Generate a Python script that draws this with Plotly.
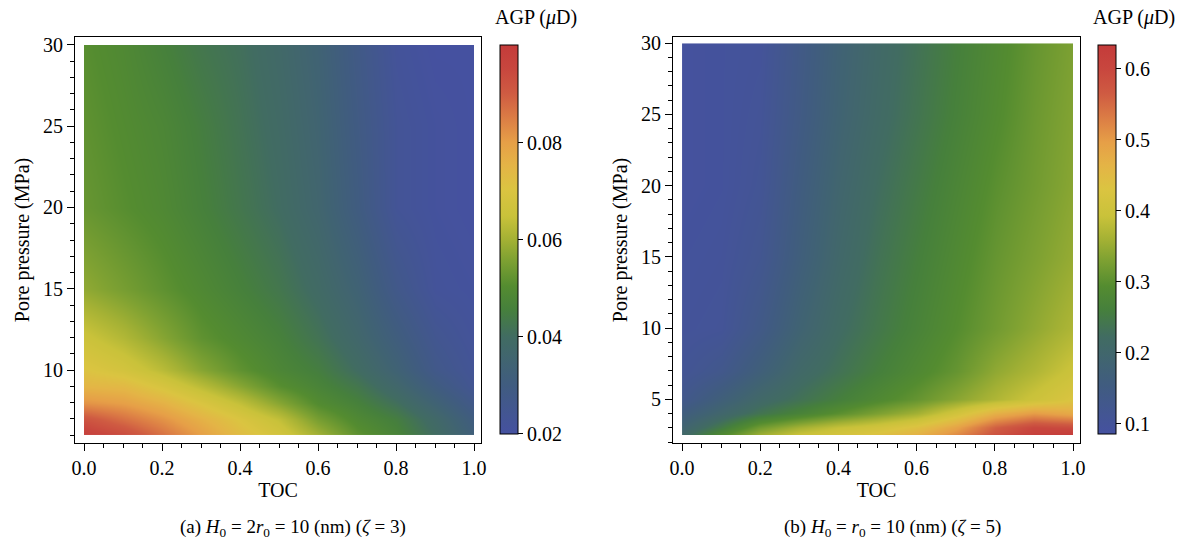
import plotly.graph_objects as go

# ---------------- data ----------------
TOC = [0.0, 0.1, 0.2, 0.3, 0.4, 0.5, 0.6, 0.7, 0.8, 0.9, 1.0]

# panel (a): H0 = 2 r0 = 10 nm (zeta = 3)
P_A = [6, 7, 8, 9, 10, 12, 15, 20, 25, 30]
AGP_A_P6 = [0.098, 0.094, 0.087, 0.080, 0.073, 0.068, 0.060, 0.052, 0.047, 0.040, 0.032]
AGP_A_P7 = [0.092, 0.087, 0.082, 0.076, 0.070, 0.064, 0.055, 0.049, 0.045, 0.038, 0.030]
AGP_A_P8 = [0.082, 0.080, 0.076, 0.070, 0.064, 0.057, 0.050, 0.046, 0.041, 0.034, 0.027]
AGP_A_P9 = [0.075, 0.074, 0.069, 0.063, 0.057, 0.051, 0.047, 0.043, 0.037, 0.030, 0.024]
AGP_A_P10 = [0.071, 0.068, 0.063, 0.057, 0.052, 0.048, 0.045, 0.040, 0.034, 0.027, 0.023]
AGP_A_P12 = [0.066, 0.062, 0.057, 0.052, 0.049, 0.046, 0.042, 0.037, 0.031, 0.025, 0.022]
AGP_A_P15 = [0.058, 0.055, 0.052, 0.049, 0.046, 0.043, 0.039, 0.034, 0.027, 0.022, 0.021]
AGP_A_P20 = [0.053, 0.051, 0.049, 0.046, 0.043, 0.040, 0.036, 0.030, 0.023, 0.021, 0.020]
AGP_A_P25 = [0.052, 0.050, 0.048, 0.045, 0.042, 0.039, 0.035, 0.029, 0.023, 0.021, 0.020]
AGP_A_P30 = [0.051, 0.049, 0.046, 0.043, 0.041, 0.038, 0.034, 0.028, 0.022, 0.020, 0.020]
Z_A = [AGP_A_P6, AGP_A_P7, AGP_A_P8, AGP_A_P9, AGP_A_P10, AGP_A_P12,
       AGP_A_P15, AGP_A_P20, AGP_A_P25, AGP_A_P30]
CB_A_RANGE = [0.02, 0.1003]
CB_A_TICKS = [0.02, 0.04, 0.06, 0.08]

# panel (b): H0 = r0 = 10 nm (zeta = 5)
P_B = [2.5, 3, 4, 5, 7, 10, 15, 20, 25, 30]
AGP_B_P2_5 = [0.21, 0.29, 0.36, 0.40, 0.42, 0.44, 0.47, 0.52, 0.58, 0.62, 0.63]
AGP_B_P3 = [0.19, 0.25, 0.32, 0.36, 0.39, 0.41, 0.44, 0.49, 0.56, 0.60, 0.59]
AGP_B_P4 = [0.16, 0.20, 0.24, 0.27, 0.30, 0.33, 0.36, 0.41, 0.47, 0.50, 0.48]
AGP_B_P5 = [0.13, 0.17, 0.21, 0.235, 0.26, 0.285, 0.31, 0.34, 0.37, 0.40, 0.43]
AGP_B_P7 = [0.11, 0.13, 0.17, 0.21, 0.235, 0.26, 0.285, 0.31, 0.345, 0.37, 0.40]
AGP_B_P10 = [0.10, 0.105, 0.14, 0.185, 0.22, 0.245, 0.27, 0.295, 0.32, 0.345, 0.37]
AGP_B_P15 = [0.095, 0.10, 0.12, 0.165, 0.205, 0.235, 0.26, 0.285, 0.31, 0.33, 0.35]
AGP_B_P20 = [0.09, 0.095, 0.11, 0.155, 0.195, 0.225, 0.25, 0.275, 0.30, 0.32, 0.34]
AGP_B_P25 = [0.09, 0.095, 0.105, 0.145, 0.185, 0.215, 0.24, 0.265, 0.29, 0.315, 0.335]
AGP_B_P30 = [0.09, 0.095, 0.10, 0.14, 0.18, 0.21, 0.235, 0.26, 0.285, 0.31, 0.33]
Z_B = [AGP_B_P2_5, AGP_B_P3, AGP_B_P4, AGP_B_P5, AGP_B_P7, AGP_B_P10,
       AGP_B_P15, AGP_B_P20, AGP_B_P25, AGP_B_P30]
CB_B_RANGE = [0.086, 0.634]
CB_B_TICKS = [0.1, 0.2, 0.3, 0.4, 0.5, 0.6]

TOC_TICKS = [0.0, 0.2, 0.4, 0.6, 0.8, 1.0]
CAPTION_A = "(a) <i>H</i><sub>0</sub> = 2<i>r</i><sub>0</sub> = 10 (nm) (<i>ζ</i> = 3)"
CAPTION_B = "(b) <i>H</i><sub>0</sub> = <i>r</i><sub>0</sub> = 10 (nm) (<i>ζ</i> = 5)"
CB_TITLE = "AGP (<i>μ</i>D)"

# ---------------- styling ----------------
W, H = 1183, 548
FONT = "Liberation Serif, Times New Roman, serif"
FS = 20

COLORSCALE = [
    [0.0, '#4551a0'],
    [0.125, '#405c80'],
    [0.25, '#416c62'],
    [0.32, '#46803c'],
    [0.38, '#548c30'],
    [0.45, '#80a232'],
    [0.5, '#a4b134'],
    [0.56, '#c9c23a'],
    [0.63, '#dbc441'],
    [0.69, '#e4b446'],
    [0.75, '#e69f47'],
    [0.81, '#dc7e45'],
    [0.875, '#cf5b42'],
    [0.94, '#c8463e'],
    [1.0, '#c43b3a'],
]


def px_x(p):
    return p / W


def px_y(p):
    return 1 - p / H


def colorbar(x_left, ticks):
    return dict(
        x=px_x(x_left), xanchor='left', xpad=0,
        y=px_y(239), yanchor='middle', ypad=0,
        len=389, lenmode='pixels',
        thickness=18, thicknessmode='pixels',
        outlinewidth=1, outlinecolor='black',
        ticks='outside', ticklen=5, tickcolor='black', tickwidth=1,
        tickvals=ticks, tickfont=dict(family=FONT, size=FS, color='black'),
    )


fig = go.Figure()
fig.add_trace(go.Contour(
    x=TOC, y=P_A, z=Z_A, colorscale=COLORSCALE,
    zmin=CB_A_RANGE[0], zmax=CB_A_RANGE[1],
    contours=dict(coloring='heatmap', showlines=False),
    line=dict(width=0), ncontours=40,
    colorbar=colorbar(500, CB_A_TICKS),
    xaxis='x', yaxis='y', hoverinfo='skip',
))
fig.add_trace(go.Contour(
    x=TOC, y=P_B, z=Z_B, colorscale=COLORSCALE,
    zmin=CB_B_RANGE[0], zmax=CB_B_RANGE[1],
    contours=dict(coloring='heatmap', showlines=False),
    line=dict(width=0), ncontours=40,
    colorbar=colorbar(1098, CB_B_TICKS),
    xaxis='x2', yaxis='y2', hoverinfo='skip',
))

axis_common = dict(
    showline=True, mirror=True, linecolor='black', linewidth=1,
    showgrid=False, zeroline=False, automargin=False,
    ticks='outside', ticklen=7, tickcolor='black', tickwidth=1,
    tickfont=dict(family=FONT, size=FS, color='black'),
)

xa = dict(axis_common, range=[-0.0231, 1.0179], tickvals=TOC_TICKS, tickformat='.1f',
          minor=dict(dtick=0.05, tick0=0, ticks='outside', ticklen=4, tickcolor='black'),
          title=dict(text='TOC', font=dict(family=FONT, size=FS, color='black'), standoff=4))

fig.update_layout(
    width=W, height=H,
    margin=dict(l=0, r=0, t=0, b=0, pad=0, autoexpand=False),
    paper_bgcolor='white', plot_bgcolor='white',
    showlegend=False,
    font=dict(family=FONT, size=FS, color='black'),
    xaxis=dict(xa, domain=[px_x(75), px_x(481)], anchor='y'),
    xaxis2=dict(xa, domain=[px_x(673), px_x(1080)], anchor='y2'),
    yaxis=dict(axis_common, domain=[px_y(443), px_y(37)], anchor='x',
               range=[5.51, 30.49], dtick=5, tick0=0,
               minor=dict(dtick=1, tick0=0, ticks='outside', ticklen=4, tickcolor='black'),
               title=dict(text='Pore pressure (MPa)', font=dict(family=FONT, size=FS, color='black'), standoff=8)),
    yaxis2=dict(axis_common, domain=[px_y(443), px_y(37)], anchor='x2',
                range=[1.93, 30.44], dtick=5, tick0=0,
                minor=dict(dtick=1, tick0=0, ticks='outside', ticklen=4, tickcolor='black'),
                title=dict(text='Pore pressure (MPa)', font=dict(family=FONT, size=FS, color='black'), standoff=8)),
    annotations=[
        dict(text=CB_TITLE, x=px_x(536), y=px_y(17), xref='paper', yref='paper',
             showarrow=False, xanchor='center', yanchor='middle',
             font=dict(family=FONT, size=FS, color='black')),
        dict(text=CB_TITLE, x=px_x(1134), y=px_y(17), xref='paper', yref='paper',
             showarrow=False, xanchor='center', yanchor='middle',
             font=dict(family=FONT, size=FS, color='black')),
        dict(text=CAPTION_A, x=px_x(293), y=px_y(528), xref='paper', yref='paper',
             showarrow=False, xanchor='center', yanchor='middle',
             font=dict(family=FONT, size=19, color='black')),
        dict(text=CAPTION_B, x=px_x(892), y=px_y(528), xref='paper', yref='paper',
             showarrow=False, xanchor='center', yanchor='middle',
             font=dict(family=FONT, size=19, color='black')),
    ],
)

# remove the browser's default 8px page margin so the figure sits at (0, 0)
fig.write_html("out.html",
               config={'displayModeBar': False},
               post_script="document.body.style.margin='0';document.body.style.overflow='hidden';")
